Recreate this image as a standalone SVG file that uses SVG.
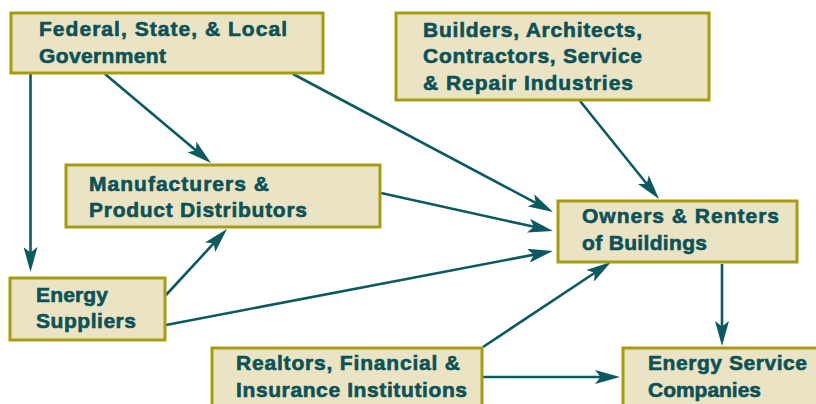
<svg xmlns="http://www.w3.org/2000/svg" width="816" height="404" viewBox="0 0 816 404">
<defs>
<style>
.box{fill:#EAE4C4;stroke:#A89B14;stroke-width:3}
.t{font-family:"Liberation Sans",Arial,sans-serif;font-weight:bold;font-size:21px;fill:#0D5157;stroke:#0D5157;stroke-width:0.6}
.c{stroke:#0C5A60;stroke-width:2.6;fill:none;marker-end:url(#ah)}
</style>
<marker id="ah" markerUnits="userSpaceOnUse" markerWidth="25" markerHeight="14" refX="7" refY="7" orient="auto" viewBox="0 0 25 14">
<path d="M0,0 L25,7 L0,14 L5.5,7 z" fill="#0C5A60"/>
</marker>
</defs>
<rect width="816" height="404" fill="#fff"/>
<g id="connectors">
<path class="c" d="M30.5,74 L30.5,254"/>
<path class="c" d="M105,74 L197.2,151.4"/>
<path class="c" d="M293,74 L537.1,203.6"/>
<path class="c" d="M580,101 L647.7,185"/>
<path class="c" d="M381,193 L535.4,227.1"/>
<path class="c" d="M166,295 L214.8,242.2"/>
<path class="c" d="M166,325 L535.3,254.4"/>
<path class="c" d="M483,347 L596,272"/>
<path class="c" d="M483,377 L602,377"/>
<path class="c" d="M722,264 L722,328"/>
</g>
<g id="government">
<rect class="box" x="11" y="13" width="312" height="60"/>
<text class="t" x="39" y="36" textLength="248" lengthAdjust="spacing">Federal, State, &amp; Local</text>
<text class="t" x="39" y="63" textLength="127" lengthAdjust="spacing">Government</text>
</g>
<g id="builders">
<rect class="box" x="396" y="13" width="313" height="87"/>
<text class="t" x="423" y="37" textLength="219" lengthAdjust="spacing">Builders, Architects,</text>
<text class="t" x="423" y="63" textLength="219" lengthAdjust="spacing">Contractors, Service</text>
<text class="t" x="423" y="90" textLength="210" lengthAdjust="spacing">&amp; Repair Industries</text>
</g>
<g id="owners">
<rect class="box" x="558" y="201" width="239" height="61"/>
<text class="t" x="582" y="223" textLength="197" lengthAdjust="spacing">Owners &amp; Renters</text>
<text class="t" x="582" y="250" textLength="125" lengthAdjust="spacing">of Buildings</text>
</g>
<g id="manufacturers">
<rect class="box" x="66" y="165" width="314" height="62"/>
<text class="t" x="89" y="191" textLength="180" lengthAdjust="spacing">Manufacturers &amp;</text>
<text class="t" x="89" y="217" textLength="218" lengthAdjust="spacing">Product Distributors</text>
</g>
<g id="energy-suppliers">
<rect class="box" x="10" y="278" width="155" height="62"/>
<text class="t" x="36" y="302" textLength="72" lengthAdjust="spacing">Energy</text>
<text class="t" x="36" y="328" textLength="100" lengthAdjust="spacing">Suppliers</text>
</g>
<g id="realtors">
<rect class="box" x="212" y="348" width="270" height="62"/>
<text class="t" x="236" y="370" textLength="224" lengthAdjust="spacing">Realtors, Financial &amp;</text>
<text class="t" x="236" y="397" textLength="231" lengthAdjust="spacing">Insurance Institutions</text>
</g>
<g id="energy-service">
<rect class="box" x="623" y="348" width="200" height="62"/>
<text class="t" x="648" y="370" textLength="159" lengthAdjust="spacing">Energy Service</text>
<text class="t" x="648" y="397" textLength="113" lengthAdjust="spacing">Companies</text>
</g>
</svg>
